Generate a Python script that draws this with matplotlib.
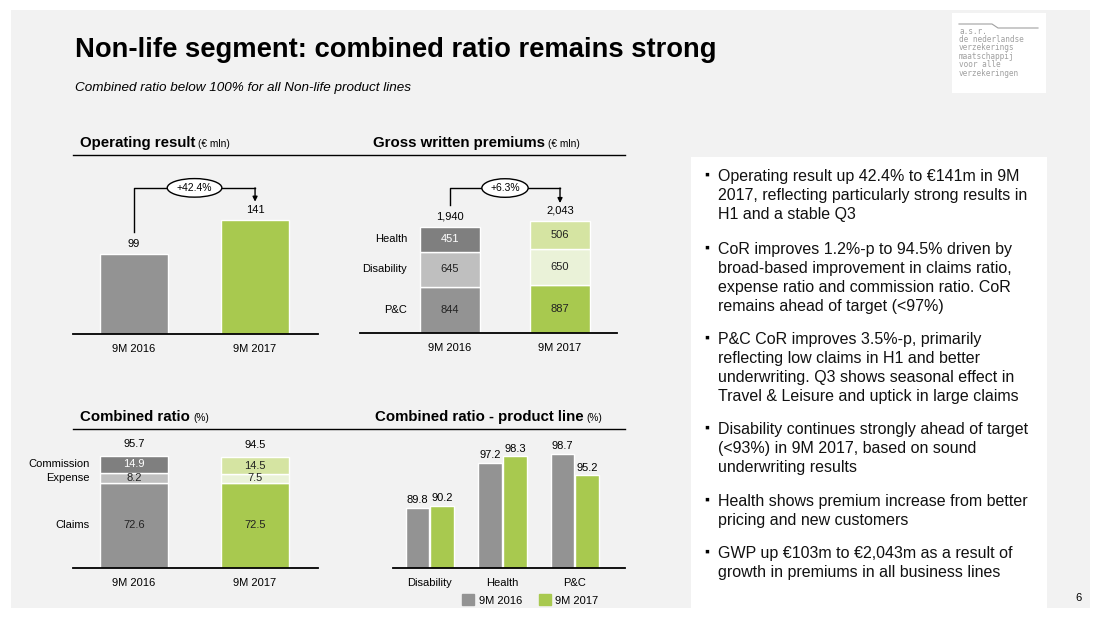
import matplotlib.pyplot as plt
from matplotlib.patches import Rectangle, Patch

plt.rcParams['font.family'] = ['Liberation Sans', 'DejaVu Sans']

W, H = 1093, 618

# data
periods = ["9M 2016", "9M 2017"]
op_result = [99, 141]
op_growth = "+42.4%"

gwp_lines = ["P&C", "Disability", "Health"]
gwp_2016 = [844, 645, 451]
gwp_2017 = [887, 650, 506]
gwp_totals = ["1,940", "2,043"]
gwp_growth = "+6.3%"

cor_parts = ["Claims", "Expense", "Commission"]
cor_2016 = [72.6, 8.2, 14.9]
cor_2017 = [72.5, 7.5, 14.5]
cor_totals = [95.7, 94.5]

products = ["Disability", "Health", "P&C"]
prod_2016 = [89.8, 97.2, 98.7]
prod_2017 = [90.2, 98.3, 95.2]

bullets = [
    "Operating result up 42.4% to €141m in 9M\n2017, reflecting particularly strong results in\nH1 and a stable Q3",
    "CoR improves 1.2%-p to 94.5% driven by\nbroad-based improvement in claims ratio,\nexpense ratio and commission ratio. CoR\nremains ahead of target (<97%)",
    "P&C CoR improves 3.5%-p, primarily\nreflecting low claims in H1 and better\nunderwriting. Q3 shows seasonal effect in\nTravel & Leisure and uptick in large claims",
    "Disability continues strongly ahead of target\n(<93%) in 9M 2017, based on sound\nunderwriting results",
    "Health shows premium increase from better\npricing and new customers",
    "GWP up €103m to €2,043m as a result of\ngrowth in premiums in all business lines",
]
bullet_y = [175, 248, 338, 428, 500, 552]

GRAY = "#939393"
DARK = "#7f7f7f"
LIGHT = "#bfbfbf"
GREEN = "#a8c94f"
LGREEN = "#d5e4a2"
PGREEN = "#eaf2d8"
BG = "#f2f2f2"

fig = plt.figure(figsize=(W / 100, H / 100), dpi=100)
fig.patch.set_facecolor("white")


def fx(x):
    return x / W


def fy(y):
    return 1 - y / H


def px_axes(x0, y0, x1, y1):
    ax = fig.add_axes([fx(x0), fy(y1), (x1 - x0) / W, (y1 - y0) / H])
    ax.set_facecolor("none")
    for s in ["top", "left", "right"]:
        ax.spines[s].set_visible(False)
    ax.spines["bottom"].set_linewidth(1.3)
    ax.set_yticks([])
    ax.tick_params(axis="x", length=0, pad=7, labelsize=8)
    return ax


def fig_rect(x0, y0, x1, y1, color):
    fig.patches.append(Rectangle((fx(x0), fy(y1)), (x1 - x0) / W, (y1 - y0) / H,
                                 transform=fig.transFigure, fc=color, ec="none", zorder=-5))


# slide background, text panel, logo box
fig_rect(11, 10, 1090, 608, BG)
fig_rect(691, 157, 1047, 608, "white")
fig_rect(952, 13, 1046, 93, "white")

fig.text(fx(75), fy(50), "Non-life segment: combined ratio remains strong",
         fontsize=19.7, fontweight="bold", va="center", ha="left")
fig.text(fx(75), fy(88), "Combined ratio below 100% for all Non-life product lines",
         fontsize=9.7, style="italic", va="center", ha="left")

# logo
logo = ["a.s.r.", "de nederlandse", "verzekerings", "maatschappij", "voor alle", "verzekeringen"]
for i, t in enumerate(logo):
    fig.text(fx(959), fy(31 + i * 8.4), t, fontsize=5.6, color="#a0a0a0",
             family="DejaVu Sans Mono", va="center")
fig.lines.append(plt.Line2D([fx(959), fx(992), fx(998), fx(1038)], [fy(24), fy(24), fy(28), fy(28)],
                            transform=fig.transFigure, color="#a0a0a0", lw=0.8))

# section headers
for y in [155, 429]:
    fig.lines.append(plt.Line2D([fx(73), fx(625)], [fy(y), fy(y)], transform=fig.transFigure,
                                color="black", lw=1))


def header(x, y, title, unit):
    t = fig.text(fx(x), fy(y), title, fontsize=10.8, fontweight="bold", va="center")
    fig.canvas.draw()
    bb = t.get_window_extent()
    fig.text(bb.x1 / W + 3 / W, fy(y + 1), unit, fontsize=7.3, va="center")


header(80, 143, "Operating result", "(€ mln)")
header(373, 143, "Gross written premiums", "(€ mln)")
header(80, 417, "Combined ratio", "(%)")
header(375, 417, "Combined ratio - product line", "(%)")


def bracket(ax, y0, ylev, ytip, label):
    ax.plot([0, 0, 1, 1], [y0, ylev, ylev, ylev], color="black", lw=1, clip_on=False)
    ax.annotate("", xy=(1, ytip), xytext=(1, ylev),
                arrowprops=dict(arrowstyle="-|>", color="black", lw=1, mutation_scale=7,
                                shrinkA=0, shrinkB=0), annotation_clip=False)
    ax.text(0.5, ylev, label, ha="center", va="center", fontsize=7.5,
            bbox=dict(boxstyle="ellipse,pad=0.15", fc="white", ec="black", lw=1))


# operating result
ax1 = px_axes(73, 170, 318, 334)
ax1.set_xlim(-0.504, 1.52)
ax1.set_ylim(0, 202)
ax1.bar([0, 1], op_result, width=0.56, color=[GRAY, GREEN], edgecolor="white", lw=1)
for i, v in enumerate(op_result):
    ax1.annotate(str(v), (i, v), xytext=(0, 3), textcoords="offset points",
                 ha="center", va="bottom", fontsize=8)
ax1.set_xticks([0, 1], periods)
bracket(ax1, 126, 180, 163, op_growth)

# gross written premiums
ax2 = px_axes(360, 170, 617, 333)
ax2.set_xlim(-0.818, 1.518)
ax2.set_ylim(0, 2985)
cols16 = [GRAY, LIGHT, DARK]
cols17 = [GREEN, PGREEN, LGREEN]
b16 = b17 = 0
for name, v16, v17, c16, c17 in zip(gwp_lines, gwp_2016, gwp_2017, cols16, cols17):
    ax2.bar(0, v16, bottom=b16, width=0.545, color=c16, edgecolor="white", lw=1)
    ax2.bar(1, v17, bottom=b17, width=0.545, color=c17, edgecolor="white", lw=1)
    ax2.text(0, b16 + v16 / 2, str(v16), ha="center", va="center", fontsize=8,
             color="white" if c16 == DARK else "#222222")
    ax2.text(1, b17 + v17 / 2, str(v17), ha="center", va="center", fontsize=8, color="#222222")
    ax2.text(-0.39, b16 + v16 / 2, name, ha="right", va="center", fontsize=8)
    b16 += v16
    b17 += v17
for i, (tot, lab) in enumerate(zip([b16, b17], gwp_totals)):
    ax2.annotate(lab, (i, tot), xytext=(0, 4), textcoords="offset points",
                 ha="center", va="bottom", fontsize=8)
ax2.set_xticks([0, 1], periods)
bracket(ax2, 2344, 2655, 2380, gwp_growth)

# combined ratio
ax3 = px_axes(73, 440, 318, 568)
ax3.set_xlim(-0.504, 1.52)
ax3.set_ylim(0, 109)
b16 = b17 = 0
for name, v16, v17, c16, c17 in zip(cor_parts, cor_2016, cor_2017, cols16, cols17):
    ax3.bar(0, v16, bottom=b16, width=0.56, color=c16, edgecolor="white", lw=1)
    ax3.bar(1, v17, bottom=b17, width=0.56, color=c17, edgecolor="white", lw=1)
    ax3.text(0, b16 + v16 / 2, f"{v16:.1f}", ha="center", va="center", fontsize=8,
             color="white" if c16 == DARK else "#222222")
    ax3.text(1, b17 + v17 / 2, f"{v17:.1f}", ha="center", va="center", fontsize=8, color="#222222")
    ax3.text(-0.364, b16 + v16 / 2, name, ha="right", va="center", fontsize=8)
    b16 += v16
    b17 += v17
for i, tot in enumerate(cor_totals):
    ax3.annotate(f"{tot:.1f}", (i, tot), xytext=(0, 5), textcoords="offset points",
                 ha="center", va="bottom", fontsize=8)
ax3.set_xticks([0, 1], periods)

# combined ratio per product line
ax4 = px_axes(393, 440, 625, 568)
ax4.set_xlim(-0.51, 2.69)
ax4.set_ylim(80, 101)
xs = list(range(len(products)))
ax4.bar([x - 0.172 for x in xs], prod_2016, width=0.33, color=GRAY, edgecolor="white", lw=1)
ax4.bar([x + 0.172 for x in xs], prod_2017, width=0.33, color=GREEN, edgecolor="white", lw=1)
for x, v16, v17 in zip(xs, prod_2016, prod_2017):
    ax4.annotate(f"{v16:.1f}", (x - 0.172, v16), xytext=(0, 2), textcoords="offset points",
                 ha="center", va="bottom", fontsize=8)
    ax4.annotate(f"{v17:.1f}", (x + 0.172, v17), xytext=(0, 2), textcoords="offset points",
                 ha="center", va="bottom", fontsize=8)
ax4.set_xticks(xs, products)
ax4.legend(handles=[Patch(color=GRAY, label=periods[0]), Patch(color=GREEN, label=periods[1])],
           ncol=2, loc="center left", bbox_to_anchor=(fx(462), fy(600)),
           bbox_transform=fig.transFigure, frameon=False, fontsize=8,
           handlelength=1.1, handleheight=1.1, handletextpad=0.4, columnspacing=1.5,
           borderpad=0, borderaxespad=0)

# bullet text
for y, t in zip(bullet_y, bullets):
    fig.text(fx(704), fy(y), "▪", fontsize=10, va="center", ha="left")
    fig.text(fx(718), fy(y - 6), t, fontsize=11.5, va="top", ha="left",
             linespacing=1.33, color="#111111")

fig.text(fx(1075), fy(598), "6", fontsize=8, va="center")

fig.savefig("out.png", dpi=100)
